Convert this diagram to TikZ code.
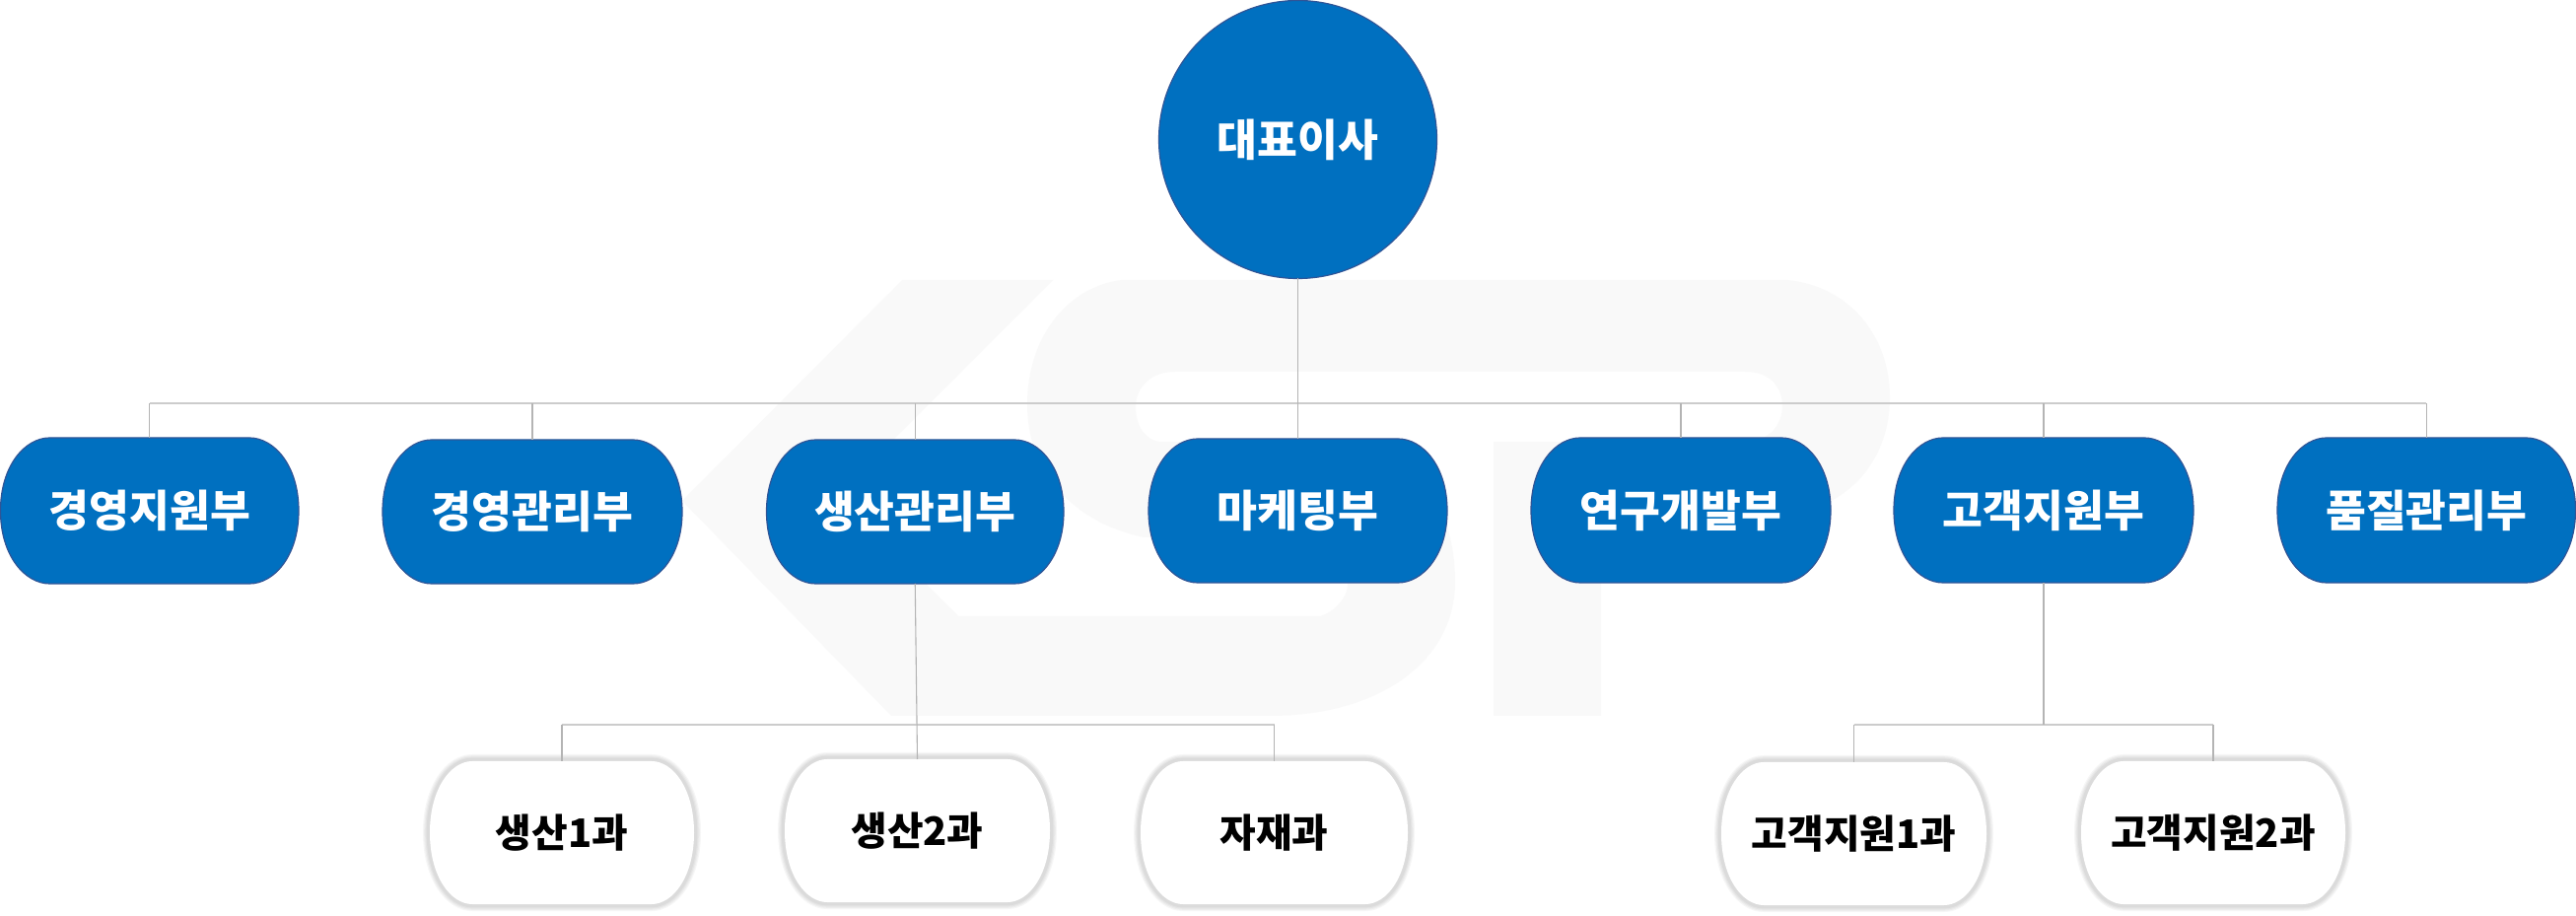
\documentclass[tikz,border=0pt]{standalone}
\usepackage{fontspec}
\newfontfamily\krfont{Noto Sans CJK KR}
\definecolor{blueFill}{HTML}{0070C0}
\definecolor{blueEdge}{HTML}{2F5597}
\definecolor{markGrey}{HTML}{F9F9F9}
\definecolor{busGrey}{HTML}{CCCCCC}
\definecolor{dropGrey}{HTML}{B4B4B4}
\tikzset{
  boxlabel/.style={shape=rectangle,inner sep=0pt,outer sep=0pt,align=center},
  deptlabel/.style={boxlabel,text=white,font=\krfont\bfseries\fontsize{22.2pt}{26pt}\selectfont},
  sectlabel/.style={boxlabel,text=black,font=\krfont\bfseries\fontsize{19.9pt}{23pt}\selectfont},
  deptshape/.style={fill=blueFill,draw=blueEdge,line width=0.6pt},
  ceonode/.style={shape=circle,fill=blueFill,draw=blueEdge,line width=0.6pt,inner sep=0pt,outer sep=0pt,minimum size=141pt,text=white,font=\krfont\bfseries\fontsize{22.2pt}{26pt}\selectfont},
  busline/.style={draw=busGrey,line width=1.1pt},
  dropline/.style={draw=dropGrey,line width=0.55pt},
  glowline/.style={draw=black,opacity=0.035,line width=#1},
}
% x1, y1, x2, y2, corner rx: computes the outline used by \capsulepath
\newcommand\capsulecalc[5]{%
  \def\cpl{#1}\def\cpt{#2}\def\cpr{#3}\def\cpb{#4}%
  \pgfmathsetmacro\cpym{(#2+#4)/2}\pgfmathsetmacro\cpry{(#4-#2)/2}%
  \pgfmathsetmacro\cpxa{#1+#5}\pgfmathsetmacro\cpxb{#3-#5}%
  \pgfmathsetmacro\cpka{#1+#5*0.5}\pgfmathsetmacro\cpkb{#3-#5*0.5}%
  \pgfmathsetmacro\cpkc{\cpym-\cpry*0.62}\pgfmathsetmacro\cpkd{\cpym+\cpry*0.62}%
  \pgfmathsetmacro\cw{(#3-#1)*0.5}\pgfmathsetmacro\ch{(#4-#2)*0.5}%
  \pgfmathsetmacro\cxm{(#1+#3)/2}}
\newcommand\capsulepath{%
  (\cpxa,\cpt) -- (\cpxb,\cpt) .. controls (\cpkb,\cpt) and (\cpr,\cpkc) .. (\cpr,\cpym)
  .. controls (\cpr,\cpkd) and (\cpkb,\cpb) .. (\cpxb,\cpb) -- (\cpxa,\cpb)
  .. controls (\cpka,\cpb) and (\cpl,\cpkd) .. (\cpl,\cpym)
  .. controls (\cpl,\cpkc) and (\cpka,\cpt) .. (\cpxa,\cpt) -- cycle}
\newcommand\deptbox[6]{%
  \capsulecalc{#2}{#3}{#4}{#5}{50}%
  \draw[deptshape] \capsulepath;
  \node[deptlabel,minimum width=\cw pt,minimum height=\ch pt] (#1) at (\cxm,\cpym) {#6};}
\newcommand\sectbox[6]{%
  \capsulecalc{#2}{#3}{#4}{#5}{43}%
  \draw[glowline=7pt] \capsulepath;
  \draw[glowline=5.8pt] \capsulepath;
  \draw[glowline=4.6pt] \capsulepath;
  \draw[glowline=3.4pt] \capsulepath;
  \fill[white] \capsulepath;
  \node[sectlabel,minimum width=\cw pt,minimum height=\ch pt] (#1) at (\cxm,\cpym) {#6};}
\begin{document}
\begin{tikzpicture}[x=0.5pt,y=-0.5pt]
\useasboundingbox (0,0) rectangle (2613,929);
\fill[white] (0,0) rectangle (2613,929);
% watermark: arrow
\fill[markGrey] (915,284) -- (1068,284) -- (849.5,502.5) -- (972,625) -- (1100,625) -- (1100,726) -- (904,726) -- (692,508) -- cycle;
% watermark: S, top bar, P
\fill[markGrey] (1138,284) -- (1813,284)
  .. controls (1875,290) and (1917,340) .. (1917,403)
  .. controls (1917,470) and (1870,522) .. (1798,522)
  -- (1624,522) -- (1624,726) -- (1515,726) -- (1515,448) -- (1770,448)
  .. controls (1795,448) and (1808,430) .. (1808,412)
  .. controls (1808,392) and (1795,377) .. (1770,377)
  -- (1192,377)
  .. controls (1168,377) and (1152,392) .. (1152,413)
  .. controls (1152,432) and (1162,448) .. (1179,448)
  -- (1380,448)
  .. controls (1440,455) and (1476,520) .. (1476,590)
  .. controls (1476,670) and (1400,726) .. (1288,726)
  -- (1100,726) -- (1100,625) -- (1339,625)
  .. controls (1355,620) and (1367,605) .. (1367,593)
  .. controls (1367,565) and (1350,545) .. (1330,545)
  -- (1160,545)
  .. controls (1090,530) and (1042,480) .. (1042,410)
  .. controls (1042,340) and (1085,290) .. (1138,284) -- cycle;
% nodes
\node[ceonode] (ceo) at (1316.5,141.5) {대표이사};
\deptbox{d1}{0.5}{444}{303}{592}{경영지원부}
\deptbox{d2}{388}{446}{692}{592}{경영관리부}
\deptbox{d3}{777.5}{446}{1079}{592}{생산관리부}
\deptbox{d4}{1165}{445}{1468}{591}{마케팅부}
\deptbox{d5}{1553}{444}{1857}{591}{연구개발부}
\deptbox{d6}{1921}{444}{2225}{591}{고객지원부}
\deptbox{d7}{2310}{444}{2612.5}{591}{품질관리부}
\sectbox{s1}{436}{772}{704}{917}{생산1과}
\sectbox{s2}{796}{770}{1065}{915}{생산2과}
\sectbox{s3}{1157}{772}{1428}{917}{자재과}
\sectbox{s4}{1746}{773}{2015}{918}{고객지원1과}
\sectbox{s5}{2111}{772}{2379}{917}{고객지원2과}
% connectors
\coordinate (busA) at (1316.5,409);
\coordinate (busB) at (930,735);
\coordinate (busC) at (2074,735);
\draw[busline] (d1.north |- busA) -- (d7.north |- busA);
\draw[busline] (s1.north |- busB) -- (s3.north |- busB);
\draw[busline] (s4.north |- busC) -- (s5.north |- busC);
\draw[dropline] (ceo.south) -- (d4.north);
\foreach \n in {d1,d2,d3,d5,d6,d7}{\draw[dropline] (\n.north) -- (\n.north |- busA);}
\draw[dropline] (d3.south) -- (s2.north);
\draw[dropline] (d6.south) -- (d6.south |- busC);
\foreach \n in {s1,s3}{\draw[dropline] (\n.north) -- (\n.north |- busB);}
\foreach \n in {s4,s5}{\draw[dropline] (\n.north) -- (\n.north |- busC);}
\end{tikzpicture}
\end{document}
